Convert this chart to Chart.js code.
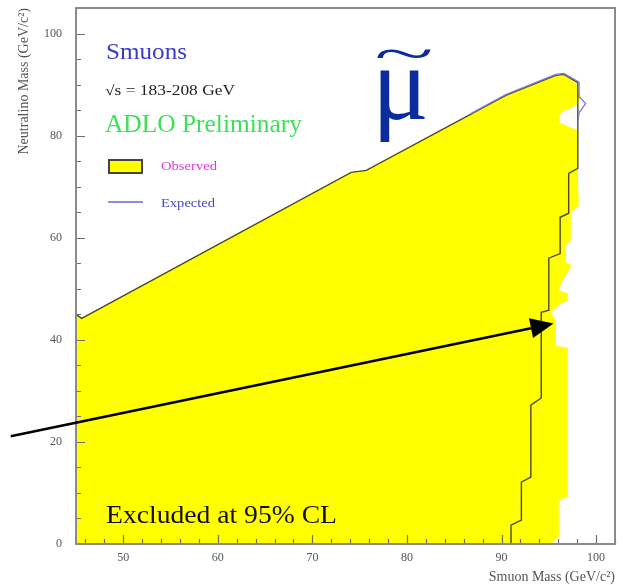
<!DOCTYPE html>
<html>
<head>
<meta charset="utf-8">
<script src="https://cdn.jsdelivr.net/npm/chart.js@4/dist/chart.umd.min.js"></script>
<style>
html,body{margin:0;padding:0;background:#fff;}
canvas{display:block;}
</style>
</head>
<body>
<canvas id="c" width="623" height="585"></canvas>
<script>
// ---- data ----
const xTicks = [50, 60, 70, 80, 90, 100];
const yTicks = [0, 20, 40, 60, 80, 100];

// observed exclusion region (yellow), outline in (smuon mass, neutralino mass)
const regionX = [45, 45, 45.6, 74.1, 75.7, 90.45, 95.74, 96.59, 98.07, 98.38, 97.85, 96.27, 96.06, 98.07, 98.07, 98.17, 97.33, 97.33, 96.8, 96.8, 97.43, 96.48, 96.06, 97.01, 97.01, 96.06, 95.21, 95.74, 95.74, 97.01, 97.01, 96.06, 96.06, 95.21, 45];
const regionY = [0, 45.0, 44.2, 72.8, 73.2, 87.9, 91.8, 92.0, 90.0, 87.5, 85.9, 84.5, 82.6, 81.0, 72.2, 66.3, 65.0, 59.5, 58.5, 55.2, 54.6, 51.7, 49.7, 49.1, 47.7, 46.8, 45.4, 43.8, 38.9, 38.4, 9.2, 8.6, 1.4, 0, 0];

// observed contour line
const obsX = [45, 45.6, 74.1, 75.7, 90.45, 95.74, 96.59, 98.07, 98.07, 98.07, 98.07, 97.1, 97.1, 96.2, 96.2, 95.0, 95.0, 94.2, 94.2, 93.1, 93.1, 92.1, 92.1, 91.0, 91.0];
const obsY = [45.0, 44.2, 72.8, 73.2, 87.9, 91.8, 92.0, 90.4, 87.5, 84.5, 73.6, 72.6, 64.8, 64.0, 56.9, 56.0, 45.8, 45.4, 28.6, 27.2, 13.1, 12.1, 4.7, 3.7, 0];

// expected contour line (visible part)
const expX = [86.75, 90.45, 95.74, 96.59, 98.2, 98.2, 98.9, 98.2, 98.1];
const expY = [84.3, 88.05, 92.0, 92.2, 90.5, 87.6, 86.3, 84.5, 83.0];

// arrow annotation (data coordinates)
const arrowFrom = [38.1, 21.1];
const arrowTo = [95.5, 43.2];

const toPts = (xs, ys) => xs.map((x, i) => ({x: x, y: ys[i]}));

const serif = "'Liberation Serif', 'DejaVu Serif', serif";

function fitText(ctx, text, x, y, font, width, color) {
  ctx.save();
  ctx.font = font;
  ctx.fillStyle = color;
  ctx.textAlign = 'left';
  ctx.textBaseline = 'alphabetic';
  const w = ctx.measureText(text).width;
  ctx.translate(x, y);
  ctx.scale(width / w, 1);
  ctx.fillText(text, 0, 0);
  ctx.restore();
}

const decor = {
  id: 'decor',
  afterDatasetsDraw(chart) {
    const ctx = chart.ctx;
    const a = chart.chartArea;
    const xs = chart.scales.x, ys = chart.scales.y;
    ctx.save();
    // inner ticks
    ctx.strokeStyle = '#6f6f6f';
    ctx.lineWidth = 1.2;
    ctx.beginPath();
    for (let v = 0; v <= 105; v += 5) {
      const p = Math.round(ys.getPixelForValue(v)) + 0.5;
      const len = (v % 20 === 0) ? 9 : 5;
      ctx.moveTo(a.left, p); ctx.lineTo(a.left + len, p);
    }
    for (let v = 46; v <= 102; v += 2) {
      const p = Math.round(xs.getPixelForValue(v)) + 0.5;
      const len = (v % 10 === 0) ? 9 : 5;
      ctx.moveTo(p, a.bottom); ctx.lineTo(p, a.bottom - len);
    }
    ctx.stroke();
    // frame
    ctx.strokeStyle = '#8a8a8a';
    ctx.lineWidth = 2;
    ctx.strokeRect(a.left, a.top, a.right - a.left, a.bottom - a.top);

    // texts
    fitText(ctx, 'Smuons', 106, 59, '23px ' + serif, 81, '#3b3bc8');
    fitText(ctx, '\u221As = 183-208 GeV', 105, 95, '14px ' + serif, 130, '#222');
    fitText(ctx, 'ADLO Preliminary', 105, 132, '25px ' + serif, 197, '#3ee05a');

    // legend
    ctx.fillStyle = '#ffff00';
    ctx.fillRect(109, 160, 33, 13);
    ctx.strokeStyle = '#444';
    ctx.lineWidth = 2;
    ctx.strokeRect(109, 160, 33, 13);
    fitText(ctx, 'Observed', 161, 170, '13px ' + serif, 56, '#d93bd9');

    ctx.strokeStyle = '#8c8ce0';
    ctx.lineWidth = 2;
    ctx.beginPath(); ctx.moveTo(108, 202); ctx.lineTo(143, 202); ctx.stroke();
    fitText(ctx, 'Expected', 161, 207, '13px ' + serif, 54, '#4646c8');

    fitText(ctx, 'Excluded at 95% CL', 106, 523, '25px ' + serif, 231, '#111');

    // big mu with tilde
    ctx.fillStyle = '#0b2c9c';
    ctx.font = '106px ' + serif;
    ctx.textAlign = 'left';
    ctx.textBaseline = 'alphabetic';
    ctx.fillText('\u03BC', 372, 119);
    ctx.save();
    ctx.translate(404, 57);
    ctx.scale(1.1, 0.5);
    ctx.font = '100px ' + serif;
    ctx.textAlign = 'center';
    ctx.textBaseline = 'middle';
    ctx.fillText('~', 0, 0);
    ctx.restore();

    // arrow
    const x0 = xs.getPixelForValue(arrowFrom[0]), y0 = ys.getPixelForValue(arrowFrom[1]);
    const x1 = xs.getPixelForValue(arrowTo[0]), y1 = ys.getPixelForValue(arrowTo[1]);
    const ang = Math.atan2(y1 - y0, x1 - x0);
    const hl = 23, hw = 10;
    const bx = x1 - hl * Math.cos(ang), by = y1 - hl * Math.sin(ang);
    ctx.strokeStyle = '#000';
    ctx.lineWidth = 2.5;
    ctx.beginPath(); ctx.moveTo(x0, y0); ctx.lineTo(bx, by); ctx.stroke();
    ctx.fillStyle = '#000';
    ctx.beginPath();
    ctx.moveTo(x1, y1);
    ctx.lineTo(bx + hw * Math.sin(ang), by - hw * Math.cos(ang));
    ctx.lineTo(bx - hw * Math.sin(ang), by + hw * Math.cos(ang));
    ctx.closePath(); ctx.fill();
    ctx.restore();
  }
};

new Chart(document.getElementById('c'), {
  type: 'scatter',
  data: {
    datasets: [
      {
        label: 'Observed',
        data: toPts(regionX, regionY),
        showLine: true,
        fill: 'shape',
        backgroundColor: '#ffff00',
        borderColor: 'rgba(0,0,0,0)',
        borderWidth: 0,
        pointRadius: 0,
        tension: 0,
        order: 3
      },
      {
        label: 'Observed contour',
        data: toPts(obsX, obsY),
        showLine: true,
        fill: false,
        borderColor: '#4a4a2a',
        borderWidth: 1.4,
        pointRadius: 0,
        tension: 0,
        order: 2
      },
      {
        label: 'Expected',
        data: toPts(expX, expY),
        showLine: true,
        fill: false,
        borderColor: '#7b7bdc',
        borderWidth: 1.3,
        pointRadius: 0,
        tension: 0,
        order: 1
      }
    ]
  },
  options: {
    responsive: false,
    animation: false,
    events: [],
    layout: {padding: {top: 8, right: 8, left: 0, bottom: 0}},
    plugins: {legend: {display: false}, tooltip: {enabled: false}},
    scales: {
      x: {
        type: 'linear',
        min: 45, max: 102,
        afterBuildTicks: s => { s.ticks = xTicks.map(v => ({value: v})); },
        afterFit: s => { s.height = 41; s.paddingLeft = 0; s.paddingRight = 0; },
        grid: {display: false, drawTicks: false},
        border: {display: false},
        ticks: {padding: 7, color: '#555', font: {family: serif, size: 12}, maxRotation: 0, autoSkip: false},
        title: {display: true, text: 'Smuon Mass (GeV/c\u00B2)', align: 'end', color: '#555', font: {family: serif, size: 14}, padding: {top: 0, bottom: -1}}
      },
      y: {
        type: 'linear',
        min: 0, max: 105,
        afterBuildTicks: s => { s.ticks = yTicks.map(v => ({value: v})); },
        afterFit: s => { s.width = 76; s.paddingTop = 0; s.paddingBottom = 0; },
        grid: {display: false, drawTicks: false},
        border: {display: false},
        ticks: {padding: 14, color: '#555', font: {family: serif, size: 12}, autoSkip: false},
        title: {display: true, text: 'Neutralino Mass (GeV/c\u00B2)', align: 'end', color: '#555', font: {family: serif, size: 14}, padding: {top: 16, bottom: 0}}
      }
    }
  },
  plugins: [decor]
});
</script>
</body>
</html>
